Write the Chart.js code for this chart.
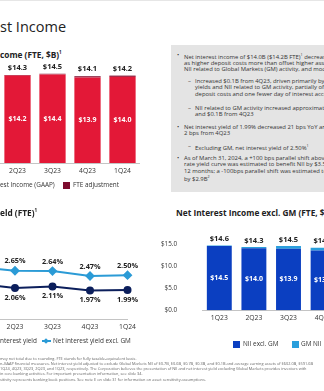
<!DOCTYPE html>
<html>
<head>
<meta charset="utf-8">
<script src="https://cdn.jsdelivr.net/npm/chart.js@4.4.1/dist/chart.umd.min.js"></script>
<style>
body { margin: 0; background: #fff; }
#slide { position: relative; width: 324px; height: 391px; overflow: hidden; background: #fff;
  font-family: 'Open Sans', sans-serif; color: #222; }
.abs { position: absolute; white-space: nowrap; }
.pre { position: absolute; right: 100%; top: 0; white-space: nowrap; }
.title { font-size: 14.5px; line-height: 18px; }
.sub { font-size: 8.3px; font-weight: bold; line-height: 10px; }
.sub sup { font-size: 4.5px; vertical-align: 4px; }
.lg { font-size: 6.4px; line-height: 8px; color: #333; }
.sq { position: absolute; width: 7px; height: 7px; }
canvas { position: absolute; }
#box { position: absolute; left: 171px; top: 45px; width: 170px; height: 147px; background: #e4e4e4; }
.note { position: absolute; white-space: nowrap; font-size: 5.9px; line-height: 6.3px; color: #333; }
.note sup { font-size: 3.6px; vertical-align: 2.5px; }
.fn { position: absolute; white-space: nowrap; font-size: 3.9px; line-height: 5px; color: #666; }
</style>
</head>
<body>
<div id="slide">
  <div class="abs" style="left:0;top:0;width:324px;height:1px;background:#e6e6e6"></div>

  <div class="abs title" style="left:0;top:18px"><span class="pre">Net Intere</span>st Income</div>
  <div class="abs sub" style="left:0;top:47px"><span class="pre">Net Interest In</span>come (FTE, $B)<sup>1</sup></div>

  <canvas id="nii" width="140" height="124" style="left:0;top:59px"></canvas>
  <div class="abs lg" style="left:0;top:181px"><span class="pre"><span style="display:inline-block;width:7px;height:7px;background:#e31837;margin-right:3px;vertical-align:-1px"></span>Net Inter</span>est Income (GAAP)</div>
  <div class="sq" style="left:63px;top:181.5px;background:#7d0c2e"></div>
  <div class="abs lg" style="left:73px;top:181px">FTE adjustment</div>

  <div id="box">
    <div class="note" style="left:6px;top:7px">•</div>
    <div class="note" style="left:13px;top:7px">Net interest income of $14.0B ($14.2B FTE)<sup>1</sup> decreased $0.4B<br>as higher deposit costs more than offset higher asset<br>NII related to Global Markets (GM) activity, and modest</div>
    <div class="note" style="left:17px;top:33px">–</div>
    <div class="note" style="left:24px;top:33px">Increased $0.1B from 4Q23, driven primarily by<br>yields and NII related to GM activity, partially offset<br>deposit costs and one fewer day of interest accrual</div>
    <div class="note" style="left:17px;top:60px">–</div>
    <div class="note" style="left:24px;top:60px">NII related to GM activity increased approximately<br>and $0.1B from 4Q23</div>
    <div class="note" style="left:6px;top:79px">•</div>
    <div class="note" style="left:13px;top:79px">Net interest yield of 1.99% decreased 21 bps YoY and<br>2 bps from 4Q23</div>
    <div class="note" style="left:17px;top:97.5px">–</div>
    <div class="note" style="left:24px;top:97.5px">Excluding GM, net interest yield of 2.50%<sup>1</sup></div>
    <div class="note" style="left:6px;top:110px">•</div>
    <div class="note" style="left:13px;top:110px">As of March 31, 2024, a +100 bps parallel shift above<br>rate yield curve was estimated to benefit NII by $3.5B<br>12 months; a -100bps parallel shift was estimated to<br>by $2.9B<sup>2</sup></div>
  </div>

  <div class="abs sub" style="left:0;top:205px"><span class="pre">Net Interest Yi</span>eld (FTE)<sup>1</sup></div>
  <canvas id="niy" width="175" height="114" style="left:-35px;top:225px"></canvas>
  <div class="abs lg" style="left:0;top:337px"><span class="pre">Net i</span>nterest yield</div>
  <div class="abs" style="left:42px;top:340px;width:9px;height:2px;background:#2b9bd6"></div>
  <div class="abs" style="left:44px;top:338.5px;width:4px;height:4px;background:#2b9bd6;transform:rotate(45deg)"></div>
  <div class="abs lg" style="left:53px;top:337px">Net interest yield excl. GM</div>

  <div class="abs sub" style="left:176px;top:205px">Net Interest Income excl. GM (FTE, $B)<sup>1</sup></div>
  <canvas id="exgm" width="215" height="124" style="left:160px;top:215px"></canvas>
  <div class="sq" style="left:233px;top:340.5px;background:#0b3fc1"></div>
  <div class="abs lg" style="left:243px;top:340px">NII excl. GM</div>
  <div class="sq" style="left:292px;top:340.5px;background:#2a9fdc"></div>
  <div class="abs lg" style="left:301px;top:340px">GM NII</div>

  <div class="fn" style="left:0;top:355.5px"><span class="pre">Amounts </span>may not total due to rounding. FTE stands for fully taxable-equivalent basis.</div>
  <div class="fn" style="left:0;top:361px"><span class="pre">Represents a no</span>n-GAAP financial measures. Net interest yield adjusted to exclude Global Markets NII of $0.7B, $0.6B, $0.7B, $0.3B, and $0.1B and average earning assets of $602.0B, $591.6B</div>
  <div class="fn" style="left:0;top:366px"><span class="pre">for </span>1Q24, 4Q23, 3Q23, 2Q23, and 1Q23, respectively. The Corporation believes the presentation of NII and net interest yield excluding Global Markets provides investors with</div>
  <div class="fn" style="left:0;top:371px"><span class="pre">trends </span>in core banking activities. For important presentation information, see slide 34.</div>
  <div class="fn" style="left:0;top:376.5px"><span class="pre">Interest rate sen</span>sitivity represents banking book positions. See note E on slide 31 for information on asset sensitivity assumptions.</div>
</div>

<script>
// quarterly figures ($B, %)
var quarters = ['2Q23', '3Q23', '4Q23', '1Q24'];
var niiGaap = [14.2, 14.4, 13.9, 14.0];
var fteAdj = [0.1, 0.1, 0.2, 0.2];

var yieldQuarters = ['1Q23', '2Q23', '3Q23', '4Q23', '1Q24'];
var netYield = [2.20, 2.06, 2.11, 1.97, 1.99];
var netYieldExGm = [2.78, 2.65, 2.64, 2.47, 2.50];

var exGmQuarters = ['1Q23', '2Q23', '3Q23', '4Q23', '1Q24'];
var niiExGm = [14.5, 14.0, 13.9, 13.5, 13.5];
var gmNii = [0.1, 0.3, 0.6, 0.6, 0.7];

var RED = '#e31837', MAROON = '#7d0c2e';
var NAVY = '#0c1f5c', SKY = '#2b9bd6';
var BLUE = '#0b3fc1', GM = '#2a9fdc';
var FONT = '"Open Sans", sans-serif';

function dollars(v) { return '$' + v.toFixed(1); }
function pct(v) { return v.toFixed(2) + '%'; }

// draws the numbers on bars / points; dataset.valueLabel says where
var valueLabels = {
  id: 'valueLabels',
  afterDatasetsDraw: function(chart, args, opts) {
    var ctx = chart.ctx;
    ctx.save();
    ctx.textAlign = 'center';
    ctx.textBaseline = 'middle';
    chart.data.datasets.forEach(function(ds, i) {
      var l = ds.valueLabel;
      if (!l) return;
      chart.getDatasetMeta(i).data.forEach(function(el, j) {
        ctx.font = l.font;
        ctx.fillStyle = l.color;
        var y = l.pos === 'center' ? (el.y + el.base) / 2 : el.y + l.offset;
        ctx.fillText(l.format(ds.data[j]), el.x, y);
      });
    });
    // stack totals above the top segment
    if (opts.totals) {
      var n = chart.data.datasets.length;
      var top = chart.getDatasetMeta(n - 1).data;
      ctx.font = opts.font;
      ctx.fillStyle = opts.color;
      top.forEach(function(el, j) {
        var sum = 0;
        chart.data.datasets.forEach(function(ds) { sum += ds.data[j]; });
        ctx.fillText(dollars(sum), el.x, el.y + opts.offset);
      });
    }
    ctx.restore();
  }
};

function xAxis(h) {
  return {
    stacked: true,
    grid: { display: false, drawTicks: false },
    border: { color: '#c4c4c4', width: 1 },
    ticks: { padding: 4, color: '#333', font: { size: 6.8, family: FONT } },
    afterFit: function(s) { s.height = h; }
  };
}

// Net interest income, GAAP + FTE adjustment
new Chart(document.getElementById('nii'), {
  type: 'bar',
  data: {
    labels: quarters,
    datasets: [
      { label: 'Net Interest Income (GAAP)', data: niiGaap, backgroundColor: RED,
        valueLabel: { pos: 'center', font: 'bold 7px ' + FONT, color: '#fff', format: dollars } },
      { label: 'FTE adjustment', data: fteAdj, backgroundColor: MAROON }
    ]
  },
  options: {
    responsive: false,
    animation: false,
    layout: { padding: 0 },
    datasets: { bar: { categoryPercentage: 1, barPercentage: 0.75 } },
    plugins: {
      legend: { display: false },
      tooltip: { enabled: false },
      valueLabels: { totals: true, offset: -7, font: 'bold 7.5px ' + FONT, color: '#222' }
    },
    scales: {
      x: xAxis(20),
      y: { stacked: true, display: false, min: 0, max: 16.9 }
    }
  },
  plugins: [valueLabels]
});

// Net interest yield lines
new Chart(document.getElementById('niy'), {
  type: 'line',
  data: {
    labels: yieldQuarters,
    datasets: [
      { label: 'Net interest yield', data: netYield, borderColor: NAVY, backgroundColor: NAVY,
        borderWidth: 2, pointStyle: 'circle', pointRadius: 3, tension: 0,
        valueLabel: { pos: 'below', offset: 9.5, font: 'bold 7.3px ' + FONT, color: '#222', format: pct } },
      { label: 'Net interest yield excl. GM', data: netYieldExGm, borderColor: SKY, backgroundColor: SKY,
        borderWidth: 2, pointStyle: 'rectRot', pointRadius: 3.5, tension: 0,
        valueLabel: { pos: 'above', offset: -9.5, font: 'bold 7.3px ' + FONT, color: '#222', format: pct } }
    ]
  },
  options: {
    responsive: false,
    animation: false,
    layout: { padding: 0 },
    plugins: { legend: { display: false }, tooltip: { enabled: false } },
    scales: {
      x: xAxis(20),
      y: { display: false, min: 0.99, max: 4.02 }
    }
  },
  plugins: [valueLabels]
});

// NII excluding Global Markets
new Chart(document.getElementById('exgm'), {
  type: 'bar',
  data: {
    labels: exGmQuarters,
    datasets: [
      { label: 'NII excl. GM', data: niiExGm, backgroundColor: BLUE,
        valueLabel: { pos: 'center', font: 'bold 7px ' + FONT, color: '#fff', format: dollars } },
      { label: 'GM NII', data: gmNii, backgroundColor: GM }
    ]
  },
  options: {
    responsive: false,
    animation: false,
    layout: { padding: { top: 13 } },
    datasets: { bar: { categoryPercentage: 1, barPercentage: 0.72 } },
    plugins: {
      legend: { display: false },
      tooltip: { enabled: false },
      valueLabels: { totals: true, offset: -6.5, font: 'bold 7.5px ' + FONT, color: '#222' }
    },
    scales: {
      x: xAxis(20),
      y: {
        stacked: true, min: 0, max: 15,
        grid: { display: false, drawTicks: false },
        border: { display: false },
        ticks: { stepSize: 5, padding: 25, color: '#333', font: { size: 6.3, family: FONT }, callback: function(v) { return dollars(v); } },
        afterFit: function(s) { s.width = 42; }
      }
    }
  },
  plugins: [valueLabels]
});
</script>
</body>
</html>
